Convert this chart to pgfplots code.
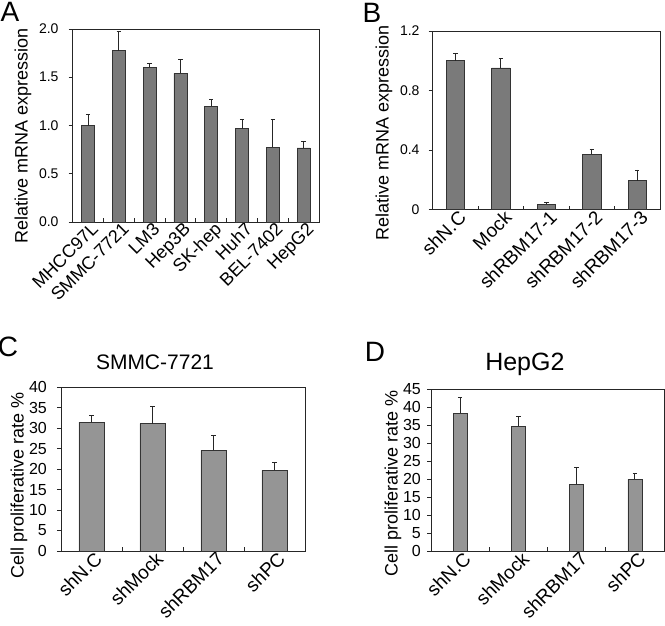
\documentclass[border=0pt]{standalone}
\usepackage{fontspec}
\setmainfont{Liberation Sans}
\usepackage{pgfplots}
\pgfplotsset{compat=1.18}
\definecolor{barA}{HTML}{7A7A7A}
\definecolor{barC}{HTML}{959595}
\pgfplotsset{
  panel/.style={
    scale only axis, anchor=south west,
    axis line style={line width=0.9pt, black!85},
    xtick pos=bottom, ytick pos=left,
    xtick align=inside, ytick align=outside,
    major tick length=4pt,
    tick style={line width=0.8pt, black!85},
    xticklabels={},
    /pgf/number format/assume math mode=true,
    yticklabel style={font=\fontsize{14pt}{16pt}\selectfont, inner sep=2pt},
    extra x tick style={major tick length=0pt,
      tick label style={font=\fontsize{19pt}{21pt}\selectfont, rotate=45, anchor=north east, inner sep=1pt, xshift=3pt}},
    ylabel style={font=\fontsize{18pt}{20pt}\selectfont, anchor=center},
    title style={font=\fontsize{21pt}{23pt}\selectfont, anchor=center},
    ymin=0,
  },
  mybar/.style={ybar, fill=#1, draw=black!80, line width=0.7pt,
    error bars/.cd, y dir=plus, y explicit,
    error bar style={line width=0.8pt, black!85},
    error mark options={rotate=90, mark size=2.2pt, line width=0.8pt, black!85},
    /pgfplots/.cd},
}
\begin{document}
\begin{tikzpicture}
\path[use as bounding box] (0,0) rectangle (665pt,-626pt);
% Panel A
\begin{axis}[panel, at={(72.7pt,-222pt)}, width=246.3pt, height=193pt,
  xmin=-0.5, xmax=7.5, ymax=2,
  xtick={0.5,1.5,...,6.5},
  extra x ticks={0,1,2,3,4,5,6,7},
  extra x tick labels={MHCC97L,SMMC-7721,LM3,Hep3B,SK-hep,Huh7,BEL-7402,HepG2},
  extra x tick style={tick label style={font=\fontsize{18pt}{20pt}\selectfont}},
  ytick={0,0.5,1,1.5,2},
  yticklabel style={xshift=-8pt, /pgf/number format/.cd, fixed, fixed zerofill, precision=1},
  ylabel={Relative mRNA expression},
  ylabel style={at={(axis description cs:-0.202,0.447)}},
]
\addplot[bar width=13pt, mybar=barA] coordinates {
  (0,1.000) +- (0,0.110)
  (1,1.775) +- (0,0.200)
  (2,1.606) +- (0,0.038)
  (3,1.540) +- (0,0.140)
  (4,1.199) +- (0,0.070)
  (5,0.967) +- (0,0.100)
  (6,0.777) +- (0,0.290)
  (7,0.767) +- (0,0.070)
};
\end{axis}
% Panel B
\begin{axis}[panel, at={(432.7pt,-209.7pt)}, width=227.3pt, height=178.7pt,
  xmin=-0.5, xmax=4.5, ymax=1.2,
  xtick={0.5,1.5,...,3.5},
  extra x ticks={0,1,2,3,4},
  extra x tick labels={shN.C,Mock,shRBM17-1,shRBM17-2,shRBM17-3},
  ytick={0,0.4,0.8,1.2},
  yticklabels={0,0.4,0.8,1.2},
  yticklabel style={xshift=-7pt},
  ylabel={Relative mRNA expression},
  ylabel style={at={(axis description cs:-0.214,0.429)}},
]
\addplot[bar width=18.3pt, mybar=barA] coordinates {
  (0,1.000) +- (0,0.050)
  (1,0.952) +- (0,0.065)
  (2,0.036) +- (0,0.014)
  (3,0.372) +- (0,0.036)
  (4,0.195) +- (0,0.072)
};
\end{axis}
% Panel C
\begin{axis}[panel, at={(61pt,-551pt)}, width=244pt, height=163.7pt,
  xmin=-0.5, xmax=3.5, ymax=40,
  xtick={0.5,1.5,2.5},
  extra x ticks={0,1,2,3},
  extra x tick labels={shN.C,shMock,shRBM17,shPC},
  ytick={0,5,...,40},
  yticklabel style={font=\fontsize{16pt}{18pt}\selectfont, xshift=-8pt},
  ylabel={Cell proliferative rate \%},
  ylabel style={at={(axis description cs:-0.172,0.403)}},
  title={SMMC-7721},
  title style={at={(axis description cs:0.385,1.115)}},
]
\addplot[bar width=25pt, mybar=barC] coordinates {
  (0,31.5) +- (0,1.6)
  (1,31.1) +- (0,4.3)
  (2,24.6) +- (0,3.6)
  (3,19.7) +- (0,1.9)
};
\end{axis}
% Panel D
\begin{axis}[panel, at={(431pt,-551pt)}, width=233pt, height=162pt,
  xmin=-0.5, xmax=3.5, ymax=45,
  xtick={0.5,1.5,2.5},
  extra x ticks={0,1,2,3},
  extra x tick labels={shN.C,shMock,shRBM17,shPC},
  ytick={0,5,...,45},
  yticklabel style={font=\fontsize{16pt}{18pt}\selectfont, xshift=-4pt},
  ylabel={Cell proliferative rate \%},
  ylabel style={at={(axis description cs:-0.163,0.414)}},
  title={HepG2},
  title style={at={(axis description cs:0.403,1.115)}, font=\fontsize{25pt}{27pt}\selectfont},
]
\addplot[bar width=14pt, mybar=barC] coordinates {
  (0,38.3) +- (0,4.4)
  (1,34.6) +- (0,2.8)
  (2,18.6) +- (0,4.7)
  (3,19.9) +- (0,1.6)
};
\end{axis}
\node[font=\fontsize{28pt}{30pt}\selectfont] at (10pt,-12pt) {A};
\node[font=\fontsize{28pt}{30pt}\selectfont] at (372pt,-12.5pt) {B};
\node[font=\fontsize{28pt}{30pt}\selectfont] at (8pt,-347pt) {C};
\node[font=\fontsize{28pt}{30pt}\selectfont] at (375pt,-352pt) {D};
\end{tikzpicture}
\end{document}
